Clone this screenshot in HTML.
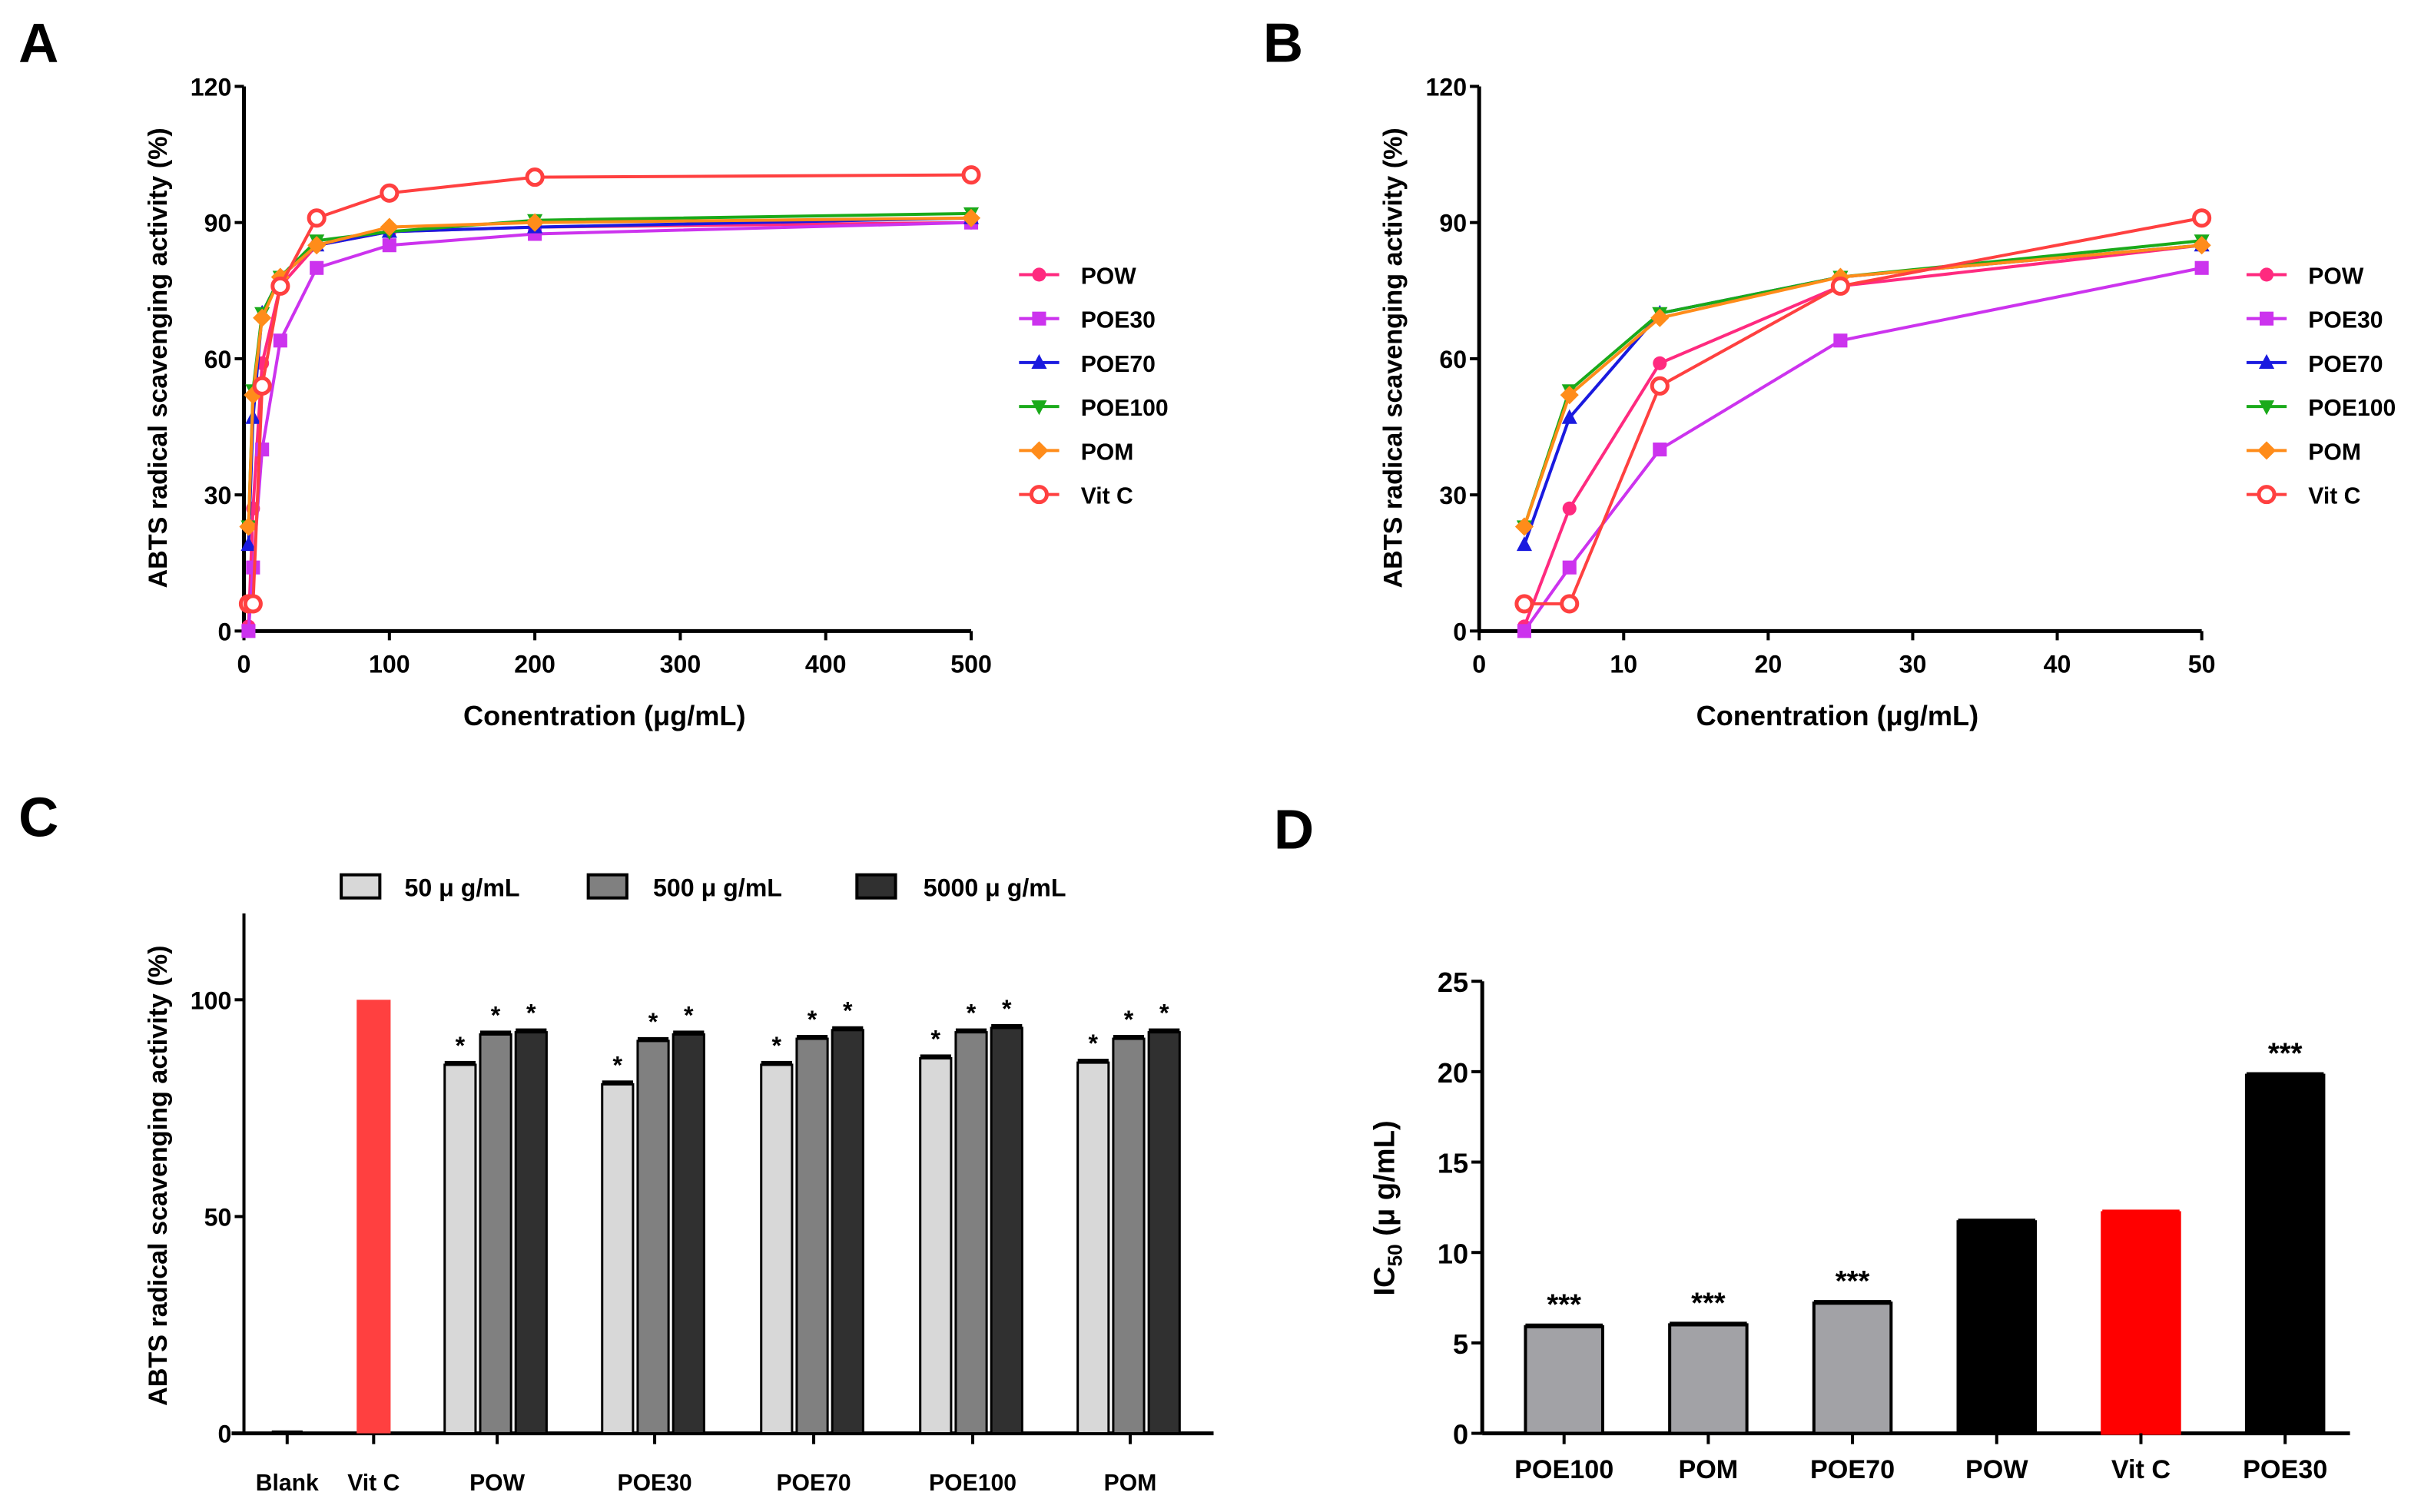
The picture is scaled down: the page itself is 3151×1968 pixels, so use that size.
<!DOCTYPE html>
<html><head><meta charset="utf-8"><style>
html,body{margin:0;padding:0;background:#fff;}
svg{display:block;font-family:"Liberation Sans",Arial,sans-serif;font-weight:bold;}
</style></head><body>
<svg id="fig" width="3151" height="1968" viewBox="0 0 1568 980" preserveAspectRatio="none" xmlns="http://www.w3.org/2000/svg"></svg>
<script>
// ----- Panel A/B data -----
const concA = [3.125, 6.25, 12.5, 25, 50, 100, 200, 500];
const concB = [3.125, 6.25, 12.5, 25, 50];
const seriesNames = ["POW", "POE30", "POE70", "POE100", "POM", "Vit C"];
const valPOW = [1, 27, 59, 76, 85, 88, 89, 90];
const valPOE30 = [0, 14, 40, 64, 80, 85, 87.5, 90];
const valPOE70 = [19, 47, 70, 78, 85, 88, 89, 91];
const valPOE100 = [23, 53, 70, 78, 86, 88, 90.5, 92];
const valPOM = [23, 52, 69, 78, 85, 89, 90, 91];
const valVitC = [6, 6, 54, 76, 91, 96.5, 100, 100.5];
const ticksA_x = [0, 100, 200, 300, 400, 500];
const ticksB_x = [0, 10, 20, 30, 40, 50];
const ticksAB_y = [0, 30, 60, 90, 120];
// ----- Panel C data -----
const catC = ["POW", "POE30", "POE70", "POE100", "POM"];
const c50 = [85, 80.5, 85, 86.5, 85.5];
const c500 = [92, 90.5, 91, 92.5, 91];
const c5000 = [92.5, 92, 93, 93.5, 92.5];
const blankVal = 0.3;
const vitCVal = 100;
const ticksC_y = [0, 50, 100];
// ----- Panel D data -----
const catD = ["POE100", "POM", "POE70", "POW", "Vit C", "POE30"];
const ic50 = [5.9, 6.0, 7.2, 11.7, 12.2, 19.8];
const sigD = ["***", "***", "***", "", "", "***"];
const ticksD_y = [0, 5, 10, 15, 20, 25];

const NS = "http://www.w3.org/2000/svg";
const svg = document.getElementById("fig");
function el(tag, attrs, parent, txt) {
  const e = document.createElementNS(NS, tag);
  for (const k in attrs) e.setAttribute(k, attrs[k]);
  if (txt !== undefined) e.textContent = txt;
  (parent || svg).appendChild(e);
  return e;
}
const colors = ["#ff2a7f", "#cc33ee", "#1a1adf", "#1aaa1a", "#ff8c1a", "#ff4040"];
const vals = [valPOW, valPOE30, valPOE70, valPOE100, valPOM, valVitC];

function marker(g, type, x, y, c) {
  let m;
  if (type === 0) m = el("circle", {cx: x, cy: y, r: 4.5, fill: c}, g);
  else if (type === 1) m = el("rect", {x: x-4.5, y: y-4.5, width: 9, height: 9, fill: c}, g);
  else if (type === 2) m = el("polygon", {points: `${x},${y-5.5} ${x-5},${y+4} ${x+5},${y+4}`, fill: c}, g);
  else if (type === 3) m = el("polygon", {points: `${x},${y+5.5} ${x-5},${y-4} ${x+5},${y-4}`, fill: c}, g);
  else if (type === 4) m = el("polygon", {points: `${x},${y-6} ${x+6},${y} ${x},${y+6} ${x-6},${y}`, fill: c}, g);
  else m = el("circle", {cx: x, cy: y, r: 5, fill: "#fff", stroke: c, "stroke-width": 2.5}, g);
  
  
}

function panelLabel(t, x, y) {
  const e = el("text", {x: x, y: y, "font-size": 36}, svg, t);
  
  
}
function yTitle(g, x, y, t, fs) {
  const e = el("text", {x: 0, y: 0, "font-size": fs || 17, "text-anchor": "middle", transform: `translate(${x},${y}) rotate(-90)`}, g, t);
  
  
}

function linePanel(id, x0, x1, xmax, xs, xticks, nPts, legX) {
  const g = el("g", {}, svg);
  
  
  const yB = 409, yT = 56;
  const sx = v => x0 + (v / xmax) * (x1 - x0);
  const sy = v => yB - (v / 120) * (yB - yT);
  el("line", {x1: x0, y1: yT, x2: x0, y2: yB, stroke: "#000", "stroke-width": 2.5}, g);
  el("line", {x1: x0, y1: yB, x2: x1, y2: yB, stroke: "#000", "stroke-width": 2.5}, g);
  ticksAB_y.forEach(t => {
    el("line", {x1: x0 - 6, y1: sy(t), x2: x0, y2: sy(t), stroke: "#000", "stroke-width": 2}, g);
    const e = el("text", {x: x0 - 8, y: sy(t) + 6, "font-size": 16, "text-anchor": "end"}, g, t);
    
    
  });
  xticks.forEach(t => {
    el("line", {x1: sx(t), y1: yB, x2: sx(t), y2: yB + 6, stroke: "#000", "stroke-width": 2}, g);
    const e = el("text", {x: sx(t), y: yB + 27, "font-size": 16, "text-anchor": "middle"}, g, t);
    
    
  });
  yTitle(g, x0 - 50, 232, "ABTS radical scavenging activity (%)");
  const xt = el("text", {x: (x0 + x1) / 2 - 2, y: 470, "font-size": 18, "text-anchor": "middle"}, g, "Conentration (μg/mL)");
  
  
  for (let s = 0; s < 6; s++) {
    const sg = el("g", {}, g);
    
    
    const pts = [];
    for (let i = 0; i < nPts; i++) pts.push(sx(xs[i]) + "," + sy(vals[s][i]));
    el("polyline", {points: pts.join(" "), fill: "none", stroke: colors[s], "stroke-width": 2}, sg);
    for (let i = 0; i < nPts; i++) marker(sg, s, sx(xs[i]), sy(vals[s][i]), colors[s]);
    const ly = 178 + s * 28.5;
    const lg = el("g", {}, g);
    
    
    el("line", {x1: legX, y1: ly, x2: legX + 26, y2: ly, stroke: colors[s], "stroke-width": 2}, lg);
    marker(lg, s, legX + 13, ly, colors[s]);
    el("text", {x: legX + 40, y: ly + 6, "font-size": 15}, lg, seriesNames[s]);
  }
}
panelLabel("A", 12, 40);
panelLabel("B", 818, 40);
linePanel("a", 158, 629, 500, concA, ticksA_x, 8, 660);
linePanel("b", 958, 1426, 50, concB, ticksB_x, 5, 1455);

// ----- Panel C -----
(function () {
  const g = el("g", {}, svg);
  
  
  panelLabel("C", 12, 542);
  const x0 = 158, yB = 929, y100 = 648;
  const sy = v => yB - v / 100 * (yB - y100);
  el("line", {x1: x0, y1: 592, x2: x0, y2: yB, stroke: "#000", "stroke-width": 2}, g);
  el("line", {x1: 150, y1: yB, x2: 786, y2: yB, stroke: "#000", "stroke-width": 2.5}, g);
  ticksC_y.forEach(t => {
    el("line", {x1: x0 - 6, y1: sy(t), x2: x0, y2: sy(t), stroke: "#000", "stroke-width": 2}, g);
    const e = el("text", {x: x0 - 8, y: sy(t) + 6, "font-size": 16, "text-anchor": "end"}, g, t);
    
    
  });
  yTitle(g, 108, 762, "ABTS radical scavenging activity (%)");
  const centers = [186, 242, 322, 424, 527, 630, 732];
  const labels = ["Blank", "Vit C"].concat(catC);
  labels.forEach((l, i) => {
    el("line", {x1: centers[i], y1: yB, x2: centers[i], y2: yB + 7, stroke: "#000", "stroke-width": 2}, g);
    const e = el("text", {x: centers[i], y: 966, "font-size": 15, "text-anchor": "middle"}, g, l);
    
    
  });
  const bl = el("rect", {x: 176, y: sy(blankVal) - 1, width: 20, height: 2, fill: "#000"}, g);
  
  
  const vc = el("rect", {x: 231, y: sy(vitCVal), width: 22, height: yB - sy(vitCVal), fill: "#ff4040"}, g);
  
  
  const fills = ["#d8d8d8", "#808080", "#303030"];
  const sets = [c50, c500, c5000];
  catC.forEach((c, i) => {
    const cx = centers[i + 2];
    sets.forEach((arr, k) => {
      const bx = cx - 34 + k * 23;
      const v = arr[i];
      const r = el("rect", {x: bx, y: sy(v), width: 20, height: yB - sy(v), fill: fills[k], stroke: "#000", "stroke-width": 1.5}, g);
      
      
      el("rect", {x: bx, y: sy(v) - 2.5, width: 20, height: 3, fill: "#000"}, g);
      const st = el("text", {x: bx + 10, y: sy(v) - 7, "font-size": 16, "text-anchor": "middle"}, g, "*");
      
      
    });
  });
  const legs = [[221, 262, "50 μ g/mL"], [381, 423, "500 μ g/mL"], [555, 598, "5000 μ g/mL"]];
  legs.forEach((l, k) => {
    const lg = el("g", {}, g);
    
    
    el("rect", {x: l[0], y: 567, width: 25, height: 15, fill: fills[k], stroke: "#000", "stroke-width": 2}, lg);
    el("text", {x: l[1], y: 581, "font-size": 16}, lg, l[2]);
  });
})();

// ----- Panel D -----
(function () {
  const g = el("g", {}, svg);
  
  
  panelLabel("D", 825, 550);
  const x0 = 960, yB = 929, yT = 636;
  const sy = v => yB - v / 25 * (yB - yT);
  el("line", {x1: x0, y1: yT, x2: x0, y2: yB, stroke: "#000", "stroke-width": 2.5}, g);
  el("line", {x1: x0, y1: yB, x2: 1522, y2: yB, stroke: "#000", "stroke-width": 2.5}, g);
  ticksD_y.forEach(t => {
    el("line", {x1: x0 - 7, y1: sy(t), x2: x0, y2: sy(t), stroke: "#000", "stroke-width": 2}, g);
    const e = el("text", {x: x0 - 9, y: sy(t) + 7, "font-size": 18, "text-anchor": "end"}, g, t);
    
    
  });
  const yt = el("text", {x: 0, y: 0, "font-size": 19, "text-anchor": "middle", transform: "translate(903,783) rotate(-90)"}, g);
  
  
  el("tspan", {}, yt, "IC");
  el("tspan", {"font-size": 13, dy: 5}, yt, "50");
  el("tspan", {dy: -5}, yt, " (μ g/mL)");
  const step = 93.4;
  catD.forEach((c, i) => {
    const cx = 1013 + i * step;
    const v = ic50[i];
    let fill = i < 3 ? "#a2a2a6" : (c === "Vit C" ? "#ff0000" : "#000");
    const r = el("rect", {x: cx - 25, y: sy(v), width: 50, height: yB - sy(v), fill: fill, stroke: i < 3 ? "#000" : fill, "stroke-width": 2}, g);
    
    
    el("rect", {x: cx - 25, y: sy(v) - 2, width: 50, height: 3, fill: c === "Vit C" ? "#ff0000" : "#000"}, g);
    el("line", {x1: cx, y1: yB, x2: cx, y2: yB + 7, stroke: "#000", "stroke-width": 2}, g);
    const e = el("text", {x: cx, y: 958, "font-size": 17, "text-anchor": "middle"}, g, c);
    
    
    if (sigD[i]) {
      const s = el("text", {x: cx, y: sy(v) - 8, "font-size": 19, "text-anchor": "middle"}, g, sigD[i]);
      
      
    }
  });
})();
</script>
</body></html>
